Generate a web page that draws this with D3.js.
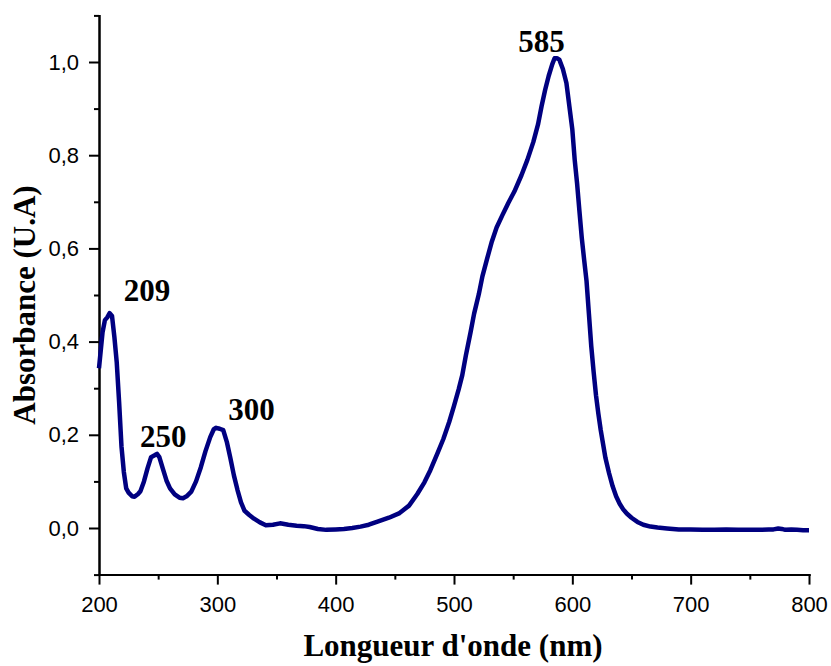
<!DOCTYPE html>
<html>
<head>
<meta charset="utf-8">
<script src="https://cdn.jsdelivr.net/npm/d3@7"></script>
<style>
  body { margin: 0; background: #fff; }
  .axis path, .axis line { stroke: #000; stroke-width: 2px; }
  .axis text { font-family: "Liberation Sans", Arial, sans-serif; font-size: 22px; fill: #000; }
  .title { font-family: "Liberation Serif", "Times New Roman", serif; font-weight: bold; fill: #000; }
</style>
</head>
<body>
<script>
var wavelength = [
    200, 203, 205, 207, 209, 211, 213, 215, 217, 219, 221, 223, 225, 228, 230, 233, 235, 238, 241, 244,
    247, 249, 251, 254, 257, 260, 264, 268, 271, 274, 278, 282, 286, 290, 294, 297, 299, 302, 305, 308,
    311, 314, 317, 320, 323, 327, 331, 336, 341, 347, 353, 360, 367, 373, 378, 385, 392, 400, 407, 414,
    421, 428, 436, 445, 454, 462, 469, 475, 480, 486, 491, 496, 500, 504, 507, 510, 514, 517, 521, 524,
    528, 532, 536, 541, 546, 551, 557, 562, 567, 571, 574, 577, 580, 583, 585, 587, 589, 592, 595, 598,
    600, 602, 604, 606, 608, 610, 612, 614, 616, 618, 620, 622, 624, 626, 628, 631, 634, 637, 640, 643,
    646, 650, 655, 660, 666, 672, 680, 690, 700, 710, 720, 730, 740, 750, 760, 766, 770, 774, 777, 780,
    785, 790, 795, 800
];
var absorbance = [
    0.343, 0.42, 0.446, 0.452, 0.461, 0.455, 0.41, 0.355, 0.27, 0.175, 0.12, 0.085, 0.076, 0.068, 0.067, 0.073, 0.079, 0.1, 0.128, 0.152,
    0.156, 0.159, 0.152, 0.127, 0.102, 0.085, 0.072, 0.065, 0.064, 0.068, 0.078, 0.1, 0.13, 0.165, 0.195, 0.212, 0.215, 0.213, 0.21, 0.185,
    0.15, 0.113, 0.082, 0.055, 0.037, 0.028, 0.02, 0.012, 0.006, 0.007, 0.010, 0.007, 0.005, 0.004, 0.002, -0.002, -0.004, -0.003, -0.002, 0.0,
    0.003, 0.007, 0.014, 0.022, 0.032, 0.048, 0.073, 0.098, 0.124, 0.16, 0.191, 0.228, 0.262, 0.298, 0.328, 0.37, 0.42, 0.46, 0.502, 0.54,
    0.578, 0.615, 0.645, 0.672, 0.698, 0.722, 0.757, 0.79, 0.828, 0.866, 0.905, 0.94, 0.97, 0.995, 1.008, 1.008, 1.005, 0.985, 0.955, 0.895,
    0.855, 0.79, 0.74, 0.68, 0.622, 0.575, 0.53, 0.46, 0.39, 0.335, 0.285, 0.245, 0.21, 0.18, 0.15, 0.118, 0.09, 0.068, 0.052, 0.04,
    0.031, 0.022, 0.013, 0.007, 0.003, 0.001, -0.001, -0.003, -0.003, -0.004, -0.004, -0.003, -0.004, -0.004, -0.004, -0.003, -0.003, -0.001, -0.002, -0.004,
    -0.003, -0.004, -0.005, -0.005
];

// peak labels
var peakWavelength = [209, 250, 300, 585];
var peakAbsorbance = [0.461, 0.159, 0.215, 1.008];
var peakLabel = ["209", "250", "300", "585"];

var xTicks = [200, 300, 400, 500, 600, 700, 800];
var xMinor = [250, 350, 450, 550, 650, 750];
var yTicks = [0, 0.2, 0.4, 0.6, 0.8, 1.0];
var yMinor = [-0.1, 0.1, 0.3, 0.5, 0.7, 0.9, 1.1];

var svg = d3.select("body").append("svg")
    .attr("width", 831)
    .attr("height", 666);

var x = d3.scaleLinear().domain([200, 800]).range([99, 809]);
var y = d3.scaleLinear().domain([-0.1, 1.1]).range([574.6, 15.4]);

var comma = function(d) { return d3.format(".1f")(d).replace(".", ","); };

// minor ticks first, then major axes on top
svg.append("g").attr("class", "axis")
    .attr("transform", "translate(0," + y(-0.1) + ")")
    .call(d3.axisBottom(x).tickValues(xMinor).tickSize(5).tickSizeOuter(0).tickFormat(""));
svg.append("g").attr("class", "axis")
    .attr("transform", "translate(0," + y(-0.1) + ")")
    .call(d3.axisBottom(x).tickValues(xTicks).tickSize(10).tickSizeOuter(0).tickPadding(12).tickFormat(d3.format("d")));

svg.append("g").attr("class", "axis")
    .attr("transform", "translate(" + x(200) + ",0)")
    .call(d3.axisLeft(y).tickValues(yMinor).tickSize(5).tickSizeOuter(0).tickFormat(""));
svg.append("g").attr("class", "axis")
    .attr("transform", "translate(" + x(200) + ",0)")
    .call(d3.axisLeft(y).tickValues(yTicks).tickSize(10).tickSizeOuter(0).tickPadding(10).tickFormat(comma));

svg.selectAll(".axis path").attr("stroke-linecap", "square");

var points = wavelength.map(function(w, i) { return [w, absorbance[i]]; });

var line = d3.line()
    .x(function(d) { return x(d[0]); })
    .y(function(d) { return y(d[1]); });

svg.append("path")
    .datum(points)
    .attr("d", line)
    .attr("fill", "none")
    .attr("stroke", "#000080")
    .attr("stroke-width", 4.5)
    .attr("stroke-linejoin", "round");

// label offsets from each peak
var offX = [14, 5, 11, -13];
var offY = [-12, -7, -8, -6];
var anchor = ["start", "middle", "start", "middle"];

svg.selectAll(".peak")
    .data(peakLabel)
    .enter().append("text")
    .attr("class", "title")
    .attr("x", function(d, i) { return x(peakWavelength[i]) + offX[i]; })
    .attr("y", function(d, i) { return y(peakAbsorbance[i]) + offY[i]; })
    .attr("text-anchor", function(d, i) { return anchor[i]; })
    .style("font-size", "31px")
    .text(function(d) { return d; });

svg.append("text")
    .attr("class", "title")
    .attr("x", 453)
    .attr("y", 656)
    .attr("text-anchor", "middle")
    .style("font-size", "31px")
    .text("Longueur d'onde (nm)");

svg.append("text")
    .attr("class", "title")
    .attr("transform", "translate(35,305) rotate(-90)")
    .attr("text-anchor", "middle")
    .style("font-size", "31px")
    .text("Absorbance (U.A)");
</script>
</body>
</html>
